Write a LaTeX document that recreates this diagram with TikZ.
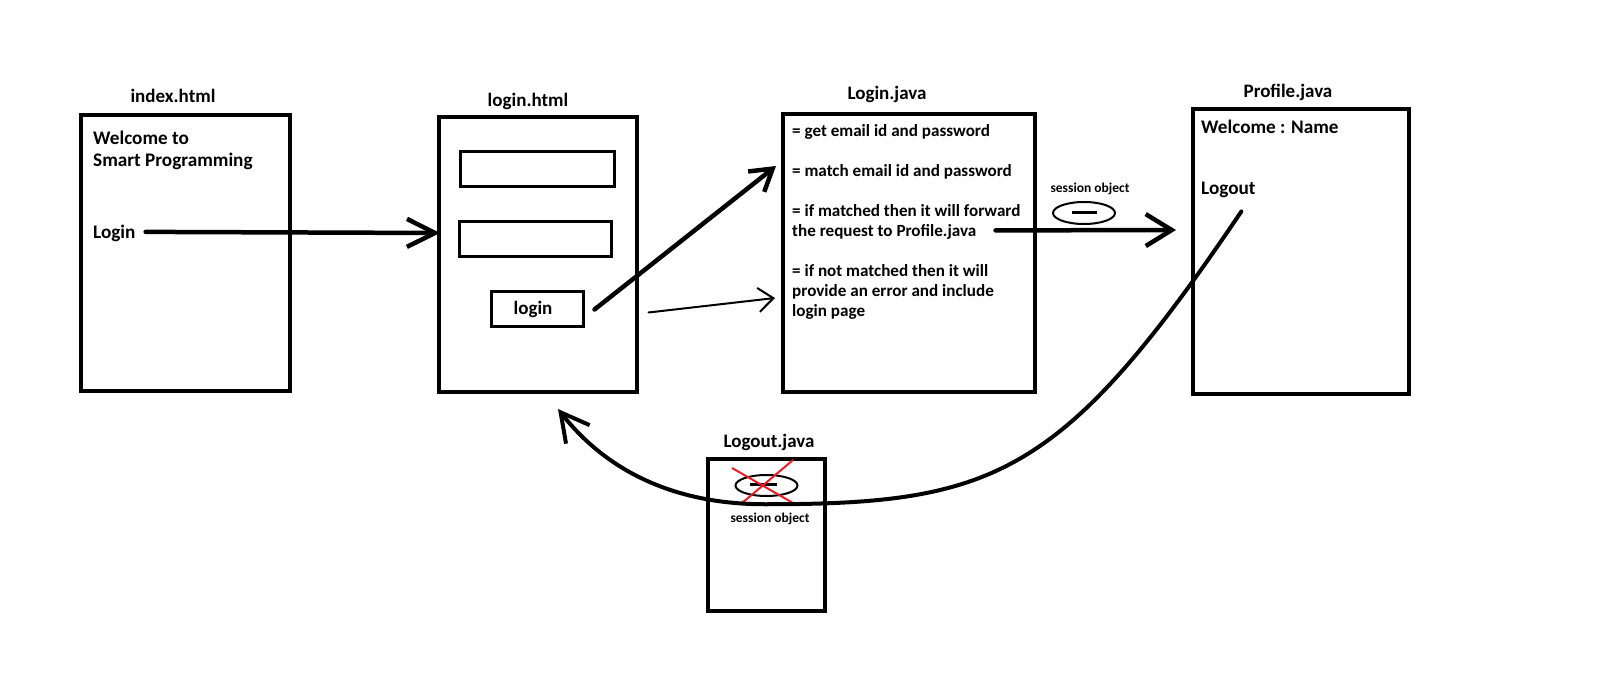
\documentclass[tikz,border=0pt]{standalone}
\usepackage{fontspec}
\setmainfont{Carlito}
\usetikzlibrary{arrows.meta,calc,shapes.geometric}
\definecolor{paintred}{RGB}{237,28,36}
\begin{document}
\begin{tikzpicture}[x=1pt,y=-1pt,
  page/.style={draw, line width=4pt, inner sep=0pt},
  field/.style={draw, line width=3pt, inner sep=0pt},
  pagetitle/.style={font=\fontsize{19}{23}\selectfont\bfseries, anchor=base, inner sep=0pt},
  bodytext/.style={font=\fontsize{19.2}{23}\selectfont\bfseries, anchor=base west, inner sep=0pt},
  steptext/.style={font=\fontsize{17.1}{20}\selectfont\bfseries, anchor=base west, inner sep=0pt},
  tinytext/.style={font=\fontsize{13.5}{16}\selectfont\bfseries, anchor=base, inner sep=0pt},
  sessobj/.style={draw, ellipse, line width=2pt, inner sep=0pt},
  flow/.style={line width=4.5pt, line cap=round},
  thinflow/.style={line width=2pt, line cap=round}]

% canvas
\useasboundingbox[fill=white] (0,0) rectangle (1600,684);

% pages
\node[page, minimum width=209pt, minimum height=276pt] (index) at (185.5,253) {};
\node[page, minimum width=198pt, minimum height=275pt] (loginhtml) at (538,254.5) {};
\node[page, minimum width=252pt, minimum height=278pt] (ljava) at (909,253) {};
\node[page, minimum width=216pt, minimum height=285pt] (profile) at (1301,251.5) {};
\node[page, line width=3.5pt, minimum width=117pt, minimum height=152pt] (logoutbox) at (766.5,535) {};

% page titles
\node[pagetitle] (tindex) at (173,103) {index.html};
\node[pagetitle] (tloginhtml) at (528,107) {login.html};
\node[pagetitle] (tljava) at (887,100) {Login.java};
\node[pagetitle] (tprofile) at (1288,98) {Profile.java};
\node[pagetitle] (tlogout) at (769,447) {Logout.java};

% index.html content
\node[bodytext] (welcome1) at (93,145) {Welcome to};
\node[bodytext] (welcome2) at (93,167) {Smart Programming};
\node[bodytext] (loginlink) at (93,239) {Login};

% login.html form
\node[field, minimum width=154pt, minimum height=35pt] (email) at (537,169.5) {};
\node[field, minimum width=152pt, minimum height=35pt] (password) at (535,239.5) {};
\node[field, minimum width=92pt, minimum height=35pt] (button) at (537,309.5) {};
\node[pagetitle] (buttontext) at (533,315) {login};

% Login.java steps
\node[steptext] (s1) at (792,137) {= get email id and password};
\node[steptext] (s2) at (792,177) {= match email id and password};
\node[steptext] (s3a) at (792,217) {= if matched then it will forward};
\node[steptext] (s3b) at (792,237) {the request to Profile.java};
\node[steptext] (s4a) at (792,277) {= if not matched then it will};
\node[steptext] (s4b) at (792,297) {provide an error and include};
\node[steptext] (s4c) at (792,317) {login page};

% Profile.java content
\node[bodytext] (welcomename) at (1201,134) {Welcome : Name};
\node[bodytext] (logoutlink) at (1201,195) {Logout};

% session object passed to Profile.java
\node[tinytext] (sesslabel1) at (1090,193) {session object};
\node[sessobj, minimum width=62pt, minimum height=22pt] (sess1) at (1084,213) {};
\draw[line width=3pt] ($(sess1.center)+(-12.5,0)$) -- ($(sess1.center)+(12.5,0)$);

% session object destroyed in Logout.java
\node[sessobj, minimum width=62pt, minimum height=21pt] (sess2) at (766.5,485.5) {};
\draw[line width=3pt] ($(sess2.center)+(-16.5,-1.5)$) -- ($(sess2.center)+(10.5,-1.5)$);
\draw[paintred, line width=2pt] ($(sess2.center)+(-34.5,-17.5)$) -- ($(sess2.center)+(26.5,17.5)$);
\draw[paintred, line width=2pt] ($(sess2.center)+(26.5,-25.5)$) -- ($(sess2.center)+(-24.5,17.5)$);
\node[tinytext] (sesslabel2) at (770,522) {session object};

% connectors
\draw[flow, -{Straight Barb[length=28pt,width=28pt]}]
  ($(loginlink.east)+(10,-2)$) -- ($(loginhtml.west)+(3,-21.5)$);
\draw[flow, -{Straight Barb[length=21pt,width=26pt]}]
  ($(button.east)+(10,0)$) -- ($(ljava.north west)+(-5,54)$);
\draw[thinflow, -{Straight Barb[length=15pt,width=24pt]}]
  ($(button.east)+(64,3)$) -- ($(ljava.west)+(-6,45)$);
\draw[flow, -{Straight Barb[length=26pt,width=32pt]}]
  ($(s3b.east)+(19,-2)$) -- ($(profile.west)+(-15,-21.5)$);
\draw[flow, line width=4pt, -{Straight Barb[length=28pt,width=30pt]}]
  ($(logoutlink.south)+(13,13)$)
    .. controls +(-179,265) and +(230,0) .. ($(logoutbox.north)+(-1.5,47)$)
    .. controls +(-100,0) and +(43,55) .. ($(loginhtml.south)+(20,15)$);

\end{tikzpicture}
\end{document}
